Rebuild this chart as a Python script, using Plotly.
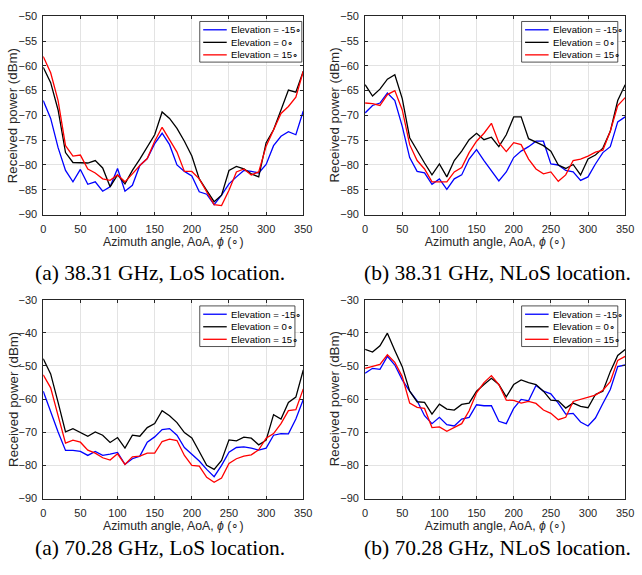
import plotly.graph_objects as go

W, H = 642, 575

azimuth = list(range(0, 360, 10))

los38_m15 = [-67.0,-70.6,-76.5,-81.1,-83.4,-80.9,-83.9,-83.4,-85.3,-84.4,-80.7,-85.3,-84.1,-80.1,-78.7,-75.7,-73.6,-75.9,-80.0,-81.3,-82.2,-85.4,-85.9,-88.0,-86.1,-83.8,-82.4,-81.1,-81.3,-81.6,-79.9,-76.1,-74.2,-73.3,-73.9,-69.1]
los38_0 = [-60.3,-63.4,-68.9,-77.5,-79.5,-79.6,-79.6,-79.1,-80.6,-84.4,-82.0,-83.8,-81.1,-78.8,-76.2,-73.9,-69.3,-70.6,-72.6,-75.2,-78.2,-82.8,-85.1,-87.4,-86.1,-81.1,-80.3,-80.8,-81.8,-82.4,-75.5,-72.9,-68.9,-64.9,-65.3,-61.1]
los38_15 = [-58.1,-61.4,-67.0,-76.1,-78.2,-78.0,-80.8,-81.6,-82.8,-83.1,-82.0,-83.4,-81.8,-80.1,-78.7,-75.2,-72.4,-74.9,-77.4,-81.3,-81.3,-82.8,-85.4,-88.0,-88.2,-85.1,-81.4,-80.8,-82.0,-81.4,-76.2,-72.8,-69.6,-68.2,-66.3,-61.1]

nlos38_m15 = [-69.5,-68.0,-67.5,-65.5,-67.0,-72.2,-78.5,-81.3,-81.6,-83.9,-82.8,-84.9,-82.8,-82.0,-78.8,-76.9,-79.1,-81.1,-83.2,-81.4,-78.5,-77.2,-76.3,-75.2,-75.2,-79.8,-80.0,-81.1,-81.4,-83.1,-82.4,-79.8,-77.5,-76.3,-71.3,-70.3]
nlos38_0 = [-63.8,-66.1,-64.7,-62.7,-61.8,-66.6,-74.5,-77.2,-79.6,-82.0,-79.8,-82.4,-79.1,-77.2,-74.9,-73.6,-74.9,-74.4,-76.3,-73.9,-70.3,-70.3,-74.7,-75.4,-76.1,-77.2,-80.0,-80.7,-79.9,-82.0,-78.8,-78.0,-76.6,-73.2,-67.0,-63.8]
nlos38_15 = [-67.5,-67.6,-68.0,-65.8,-65.0,-68.9,-75.9,-79.1,-80.8,-83.4,-83.4,-83.4,-81.4,-80.5,-77.5,-75.2,-73.6,-71.6,-75.5,-77.3,-75.5,-75.9,-78.8,-80.8,-81.8,-81.4,-83.3,-82.0,-79.1,-78.8,-78.2,-77.4,-77.0,-73.2,-68.0,-66.4]

los70_m15 = [-57.6,-64.0,-69.9,-75.5,-75.5,-75.8,-77.0,-75.8,-77.0,-76.6,-76.1,-79.7,-78.0,-77.2,-73.0,-71.4,-69.2,-68.9,-70.9,-74.6,-76.6,-78.7,-81.2,-83.4,-80.0,-76.0,-74.6,-74.4,-74.8,-75.4,-74.8,-70.9,-70.4,-70.5,-66.0,-60.1]
los70_0 = [-47.8,-52.4,-61.0,-69.9,-68.9,-70.1,-71.2,-69.9,-70.9,-73.1,-71.6,-74.8,-70.9,-71.2,-68.6,-67.4,-63.5,-65.0,-67.1,-70.1,-71.7,-75.8,-80.0,-81.2,-78.5,-72.3,-72.6,-71.5,-71.8,-73.8,-72.4,-64.7,-66.0,-61.0,-59.4,-51.2]
los70_15 = [-52.7,-56.6,-65.0,-73.3,-72.4,-73.0,-75.4,-76.3,-77.7,-78.4,-76.5,-79.7,-77.4,-77.2,-76.3,-76.3,-72.8,-72.1,-72.5,-77.0,-80.0,-80.2,-83.6,-85.1,-83.8,-79.4,-78.0,-77.2,-76.8,-75.3,-71.8,-70.4,-67.4,-63.5,-63.2,-56.9]

nlos70_m15 = [-52.2,-50.7,-51.0,-47.1,-49.7,-54.2,-57.6,-60.5,-65.0,-67.4,-65.5,-67.7,-68.1,-66.0,-65.5,-61.7,-62.0,-62.0,-66.7,-67.4,-62.8,-60.1,-60.5,-55.9,-57.6,-58.4,-61.2,-64.5,-64.3,-66.9,-68.1,-65.7,-61.3,-57.1,-50.2,-49.7]
nlos70_0 = [-45.0,-45.8,-43.9,-40.1,-45.3,-50.2,-57.6,-60.8,-61.0,-64.5,-61.5,-63.0,-63.3,-61.6,-61.2,-57.6,-55.6,-53.7,-55.6,-59.3,-55.6,-54.2,-55.0,-55.6,-57.6,-60.3,-60.5,-62.7,-61.2,-62.2,-62.6,-58.6,-57.6,-51.7,-46.8,-45.0]
nlos70_15 = [-50.7,-50.0,-49.5,-46.6,-48.9,-53.2,-61.2,-62.5,-62.8,-68.6,-68.4,-69.7,-68.6,-67.4,-63.5,-58.1,-55.0,-52.9,-55.6,-60.3,-60.4,-61.2,-60.7,-61.3,-63.3,-64.3,-66.2,-65.5,-60.7,-60.1,-59.4,-58.8,-57.3,-54.7,-48.3,-47.1]

series_names = ["Elevation = -15\u2218", "Elevation = 0\u2218", "Elevation = 15\u2218"]
series_colors = ["#0000ff", "#000000", "#ff0000"]

captions = ["(a) 38.31 GHz, LoS location.", "(b) 38.31 GHz, NLoS location.",
            "(a) 70.28 GHz, LoS location.", "(b) 70.28 GHz, NLoS location."]
x_title = "Azimuth angle, AoA, <i>\u03d5</i> (\u2218)"
y_title = "Received power (dBm)"
y_ranges = [(-90, -50), (-90, -50), (-90, -30), (-90, -30)]
y_dticks = [5, 5, 10, 10]
panel_data = [
    [los38_m15, los38_0, los38_15],
    [nlos38_m15, nlos38_0, nlos38_15],
    [los70_m15, los70_0, los70_15],
    [nlos70_m15, nlos70_0, nlos70_15],
]

# pixel layout of plot areas (left, right, top, bottom)
boxes = [(41, 306, 10.5, 213), (369, 634, 10.5, 213),
         (41, 306, 300, 503), (369, 634, 300, 503)]
legend_w = [104, 98, 97, 98]
legend_top = [5.3, 5.3, 6.3, 6.3]
caption_x = [30.7, 366, 30.7, 366]
caption_y = [273, 273, 554, 554]
ytitle_x = [10, 337.5, 10, 337.5]

AX = "#262626"
GRID = "#e3e3e3"
FONT = "Liberation Sans, Arial, sans-serif"

def px(x):
    return x / W

def py(y):
    return 1 - y / H

fig = go.Figure()
layout = dict(
    width=W, height=H, margin=dict(l=0, r=0, t=0, b=0),
    paper_bgcolor="white", plot_bgcolor="white", showlegend=False,
    font=dict(family=FONT, color=AX, size=11),
)
shapes = []
annotations = []

for i in range(4):
    sfx = "" if i == 0 else str(i + 1)
    l, r, t, b = boxes[i]
    for k in range(3):
        fig.add_trace(go.Scatter(
            x=azimuth, y=panel_data[i][k], mode="lines", name=series_names[k],
            line=dict(color=series_colors[k], width=1.3),
            xaxis="x" + sfx, yaxis="y" + sfx,
        ))
    common = dict(showline=True, linecolor=AX, linewidth=0.8, mirror="ticks",
                  ticks="inside", ticklen=3, tickcolor=AX, tickwidth=0.8,
                  showgrid=True, gridcolor=GRID, gridwidth=0.8, zeroline=False,
                  tickfont=dict(family=FONT, size=11, color=AX))
    layout["xaxis" + sfx] = dict(
        common, domain=[px(l), px(r)], range=[0, 350], dtick=50, tick0=0,
        anchor="y" + sfx, ticklabelstandoff=4,
        title=dict(text=x_title, font=dict(family=FONT, size=12.3, color=AX), standoff=0),
    )
    layout["yaxis" + sfx] = dict(
        common, domain=[py(b), py(t)], range=list(y_ranges[i]), dtick=y_dticks[i],
        anchor="x" + sfx, ticklabelstandoff=3,
    )
    annotations.append(dict(xref="paper", yref="paper", x=px(ytitle_x[i]), y=py((t + b) / 2),
                            xanchor="center", yanchor="middle", showarrow=False,
                            textangle=-90, text=y_title,
                            font=dict(family=FONT, size=13.3, color=AX)))
    # legend box
    bl = l + 159.5
    br = bl + legend_w[i]
    bt = t + legend_top[i]
    bb = bt + 41.5
    shapes.append(dict(type="rect", xref="paper", yref="paper",
                       x0=px(bl), x1=px(br), y0=py(bb), y1=py(bt),
                       line=dict(color=AX, width=0.8), fillcolor="white", layer="above"))
    for k in range(3):
        yy = bt + 8.5 + 12.8 * k
        shapes.append(dict(type="line", xref="paper", yref="paper",
                           x0=px(bl + 3.5), x1=px(bl + 27.5), y0=py(yy), y1=py(yy),
                           line=dict(color=series_colors[k], width=1.3), layer="above"))
        annotations.append(dict(xref="paper", yref="paper", x=px(bl + 29.5), y=py(yy),
                                xanchor="left", yanchor="middle", showarrow=False,
                                text=series_names[k],
                                font=dict(family=FONT, size=9.6, color="#000000")))
    annotations.append(dict(xref="paper", yref="paper", x=px(caption_x[i]), y=py(caption_y[i]),
                            xanchor="left", yanchor="middle", showarrow=False,
                            text=captions[i],
                            font=dict(family="Liberation Serif, Times New Roman, serif",
                                      size=21.5, color="#000000")))

layout["shapes"] = shapes
layout["annotations"] = annotations
fig.update_layout(**layout)
fig.write_html("out.html")
